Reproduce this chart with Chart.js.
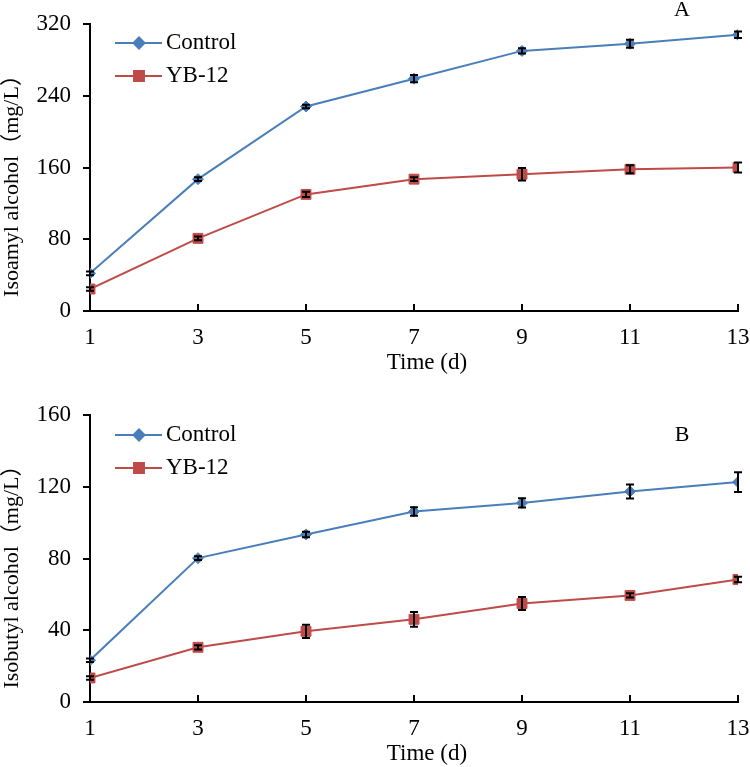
<!DOCTYPE html>
<html lang="en">
<head>
<meta charset="UTF-8">
<title>Higher alcohols over fermentation time</title>
<script src="https://cdn.jsdelivr.net/npm/chart.js"></script>
<style>
  body { margin: 0; background: #fff; overflow: hidden; }
  .panel { position: absolute; left: 0; width: 750px; }
  #panelA { top: 0; height: 383px; }
  #panelB { top: 385px; height: 382px; overflow: hidden; }
</style>
</head>
<body>
<div class="panel" id="panelA"><canvas id="chartA" width="750" height="383"></canvas></div>
<div class="panel" id="panelB"><canvas id="chartB" width="750" height="390"></canvas></div>

<script>
// time points (days)
const days = [1, 3, 5, 7, 9, 11, 13];

// panel A - isoamyl alcohol (mg/L)
const isoamylControl = [42, 147, 228, 259, 290, 298, 308];
const isoamylControlErr = [2, 2, 2, 4, 3, 4.5, 3.5];
const isoamylYB12 = [24.5, 81, 130, 147, 152.5, 158, 160];
const isoamylYB12Err = [2, 2, 3, 2, 7, 4.5, 5.5];

// panel B - isobutyl alcohol (mg/L)
const isobutylControl = [23.3, 80.2, 93.4, 106.2, 111, 117.4, 122.6];
const isobutylControlErr = [1, 1, 1.5, 2.4, 2.6, 3.9, 5.5];
const isobutylYB12 = [13.4, 30.5, 39.4, 46.1, 54.9, 59.4, 68.3];
const isobutylYB12Err = [1, 1.2, 3.7, 4.1, 3.6, 1.2, 1.5];

const seriesNames = ['Control', 'YB-12'];
const xTitle = 'Time (d)';
const BLUE = '#4a7ebb';
const RED = '#be4b48';
const FONT = 'Liberation Serif';
const TITLE_FONT = '22px "Liberation Serif", "Noto Sans CJK SC"';

function toPoints(xs, ys) {
    return xs.map((x, i) => ({ x: x, y: ys[i] }));
}

// error bars, inward x ticks, legend, panel letter and axis titles
const decorPlugin = {
    id: 'decor',
    afterDatasetsDraw(chart, args, opts) {
        const ctx = chart.ctx;
        const ys = chart.scales.y;
        const xs = chart.scales.x;
        const area = chart.chartArea;
        ctx.save();

        // error bars
        ctx.strokeStyle = '#000';
        ctx.lineWidth = 2;
        opts.errors.forEach((errs, di) => {
            const meta = chart.getDatasetMeta(di);
            const vals = chart.data.datasets[di].data;
            meta.data.forEach((pt, j) => {
                const top = ys.getPixelForValue(vals[j].y + errs[j]);
                const bot = ys.getPixelForValue(vals[j].y - errs[j]);
                ctx.beginPath();
                ctx.moveTo(pt.x, top); ctx.lineTo(pt.x, bot);
                ctx.moveTo(pt.x - 4, top); ctx.lineTo(pt.x + 4, top);
                ctx.moveTo(pt.x - 4, bot); ctx.lineTo(pt.x + 4, bot);
                ctx.stroke();
            });
        });

        // x ticks pointing into the plot
        ctx.beginPath();
        xs.ticks.forEach(t => {
            const px = xs.getPixelForValue(t.value);
            ctx.moveTo(px, area.bottom);
            ctx.lineTo(px, area.bottom - 7);
        });
        ctx.stroke();

        // legend
        ctx.font = '23px "' + FONT + '"';
        ctx.textBaseline = 'middle';
        ctx.textAlign = 'left';
        chart.data.datasets.forEach((ds, i) => {
            const y = area.top + opts.legendTop + i * 33;
            ctx.strokeStyle = ds.borderColor;
            ctx.lineWidth = 2;
            ctx.beginPath();
            ctx.moveTo(115, y); ctx.lineTo(162, y);
            ctx.stroke();
            ctx.fillStyle = ds.backgroundColor;
            Chart.helpers.drawPoint(ctx, {
                pointStyle: ds.pointStyle, radius: ds.pointRadius,
                rotation: 0, borderWidth: 1
            }, 139, y);
            ctx.fillStyle = '#000';
            ctx.fillText(ds.label, 166, y);
        });

        // panel letter
        ctx.textAlign = 'center';
        ctx.font = '22px "' + FONT + '"';
        ctx.fillText(opts.letter, 682, area.top + opts.letterDy);

        // x axis title (sits a little right of centre in the original)
        ctx.font = '23px "' + FONT + '"';
        ctx.fillText(xTitle, (area.left + area.right) / 2 + 13, area.bottom + 52);

        // y axis title
        ctx.translate(12, (area.top + area.bottom) / 2 + 13);
        ctx.rotate(-Math.PI / 2);
        ctx.font = TITLE_FONT;
        ctx.fillText(opts.yTitle, 0, 0);
        ctx.restore();
    }
};

function makeChart(id, control, yb, ctrlErr, ybErr, yMax, yStep, yTitle, letter, letterDy, legendTop, topPad, xHeight) {
    return new Chart(document.getElementById(id), {
        type: 'line',
        data: {
            datasets: [{
                label: seriesNames[0],
                data: toPoints(days, control),
                borderColor: BLUE,
                backgroundColor: BLUE,
                borderWidth: 2,
                pointStyle: 'rectRot',
                pointRadius: 5.5,
                pointBorderWidth: 1,
                tension: 0
            }, {
                label: seriesNames[1],
                data: toPoints(days, yb),
                borderColor: RED,
                backgroundColor: RED,
                borderWidth: 2,
                pointStyle: 'rect',
                pointRadius: 7,
                pointBorderWidth: 1,
                tension: 0
            }]
        },
        options: {
            responsive: false,
            animation: false,
            layout: { padding: { top: topPad, right: 12, left: 0, bottom: 0 } },
            plugins: {
                legend: { display: false },
                tooltip: { enabled: false },
                decor: {
                    errors: [ctrlErr, ybErr],
                    letter: letter,
                    letterDy: letterDy,
                    legendTop: legendTop,
                    yTitle: yTitle
                }
            },
            scales: {
                x: {
                    type: 'linear',
                    min: 1,
                    max: 13,
                    ticks: { stepSize: 2, color: '#000', font: { family: FONT, size: 23 }, padding: 13 },
                    grid: { drawOnChartArea: false, drawTicks: false },
                    border: { color: '#000', width: 2 },
                    afterFit(s) {
                        s.height = xHeight;
                        s.paddingLeft = 0;
                        s.paddingRight = 0;
                    }
                },
                y: {
                    min: 0,
                    max: yMax,
                    ticks: { stepSize: yStep, color: '#000', font: { family: FONT, size: 23 }, padding: 12 },
                    grid: { drawOnChartArea: false, tickLength: 7, color: '#000', lineWidth: 2 },
                    border: { color: '#000', width: 2 },
                    afterFit(s) {
                        s.width = 90;
                        s.paddingTop = 0;
                        s.paddingBottom = 0;
                    }
                }
            }
        },
        plugins: [decorPlugin]
    });
}

makeChart('chartA', isoamylControl, isoamylYB12, isoamylControlErr, isoamylYB12Err,
    320, 80, 'Isoamyl alcohol（mg/L）', 'A', -14, 19, 24, 72);
makeChart('chartB', isobutylControl, isobutylYB12, isobutylControlErr, isobutylYB12Err,
    160, 40, 'Isobutyl alcohol（mg/L）', 'B', 20, 20, 30, 73);
</script>
</body>
</html>
